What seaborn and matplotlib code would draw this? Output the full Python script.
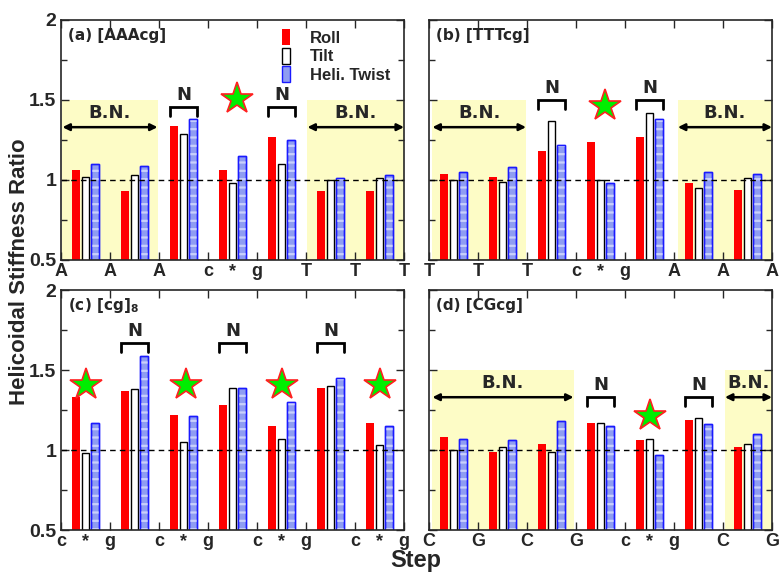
import numpy as np
import pandas as pd
import seaborn as sns
import matplotlib.pyplot as plt
from matplotlib.patches import Rectangle

params = ['Roll', 'Tilt', 'Heli. Twist']

# (a) [AAAcg]
roll_a = [1.06, 0.93, 1.34, 1.06, 1.27, 0.93, 0.93]
tilt_a = [1.02, 1.03, 1.29, 0.98, 1.10, 1.00, 1.01]
twist_a = [1.10, 1.09, 1.38, 1.15, 1.25, 1.01, 1.03]
ticks_a = ['A', 'A', 'A', 'c', 'g', 'T', 'T', 'T']

# (b) [TTTcg]
roll_b = [1.04, 1.02, 1.18, 1.24, 1.27, 0.98, 0.94]
tilt_b = [1.00, 0.99, 1.37, 1.00, 1.42, 0.95, 1.01]
twist_b = [1.05, 1.08, 1.22, 0.98, 1.38, 1.05, 1.04]
ticks_b = ['T', 'T', 'T', 'c', 'g', 'A', 'A', 'A']

# (c) [cg]8
roll_c = [1.33, 1.37, 1.22, 1.28, 1.15, 1.39, 1.17]
tilt_c = [0.98, 1.38, 1.05, 1.39, 1.07, 1.40, 1.03]
twist_c = [1.17, 1.59, 1.21, 1.39, 1.30, 1.45, 1.15]
ticks_c = ['c', 'g', 'c', 'g', 'c', 'g', 'c', 'g']

# (d) [CGcg]
roll_d = [1.08, 0.99, 1.04, 1.17, 1.06, 1.19, 1.02]
tilt_d = [1.00, 1.02, 0.99, 1.17, 1.07, 1.20, 1.04]
twist_d = [1.07, 1.06, 1.18, 1.15, 0.97, 1.16, 1.10]
ticks_d = ['C', 'G', 'C', 'G', 'c', 'g', 'C', 'G']

palette = {'Roll': '#ff0000', 'Tilt': 'white', 'Heli. Twist': '#8f9df2'}
edges = ['#ff0000', 'black', '#1a1aff']

sns.set_style('ticks')
plt.rcParams['font.family'] = ['Liberation Sans', 'DejaVu Sans']
plt.rcParams['font.weight'] = 'bold'
plt.rcParams['hatch.linewidth'] = 1.6

fig = plt.figure(figsize=(7.82, 5.72), dpi=100)

panels = [
    dict(pos=[0.078, 0.5455, 0.4386, 0.4196], roll=roll_a, tilt=tilt_a, twist=twist_a,
         ticks=ticks_a, title='(a) [AAAcg]', stars=[(3.1, 1.505)], star_lbl=[3],
         n=[2, 4], n_top=1.455, bn=[(-0.47, 1.47), (4.53, 6.5)], ylab=True, legend=True),
    dict(pos=[0.5486, 0.5455, 0.4386, 0.4196], roll=roll_b, tilt=tilt_b, twist=twist_b,
         ticks=ticks_b, title='(b) [TTTcg]', stars=[(3.1, 1.46)], star_lbl=[3],
         n=[2, 4], n_top=1.5, bn=[(-0.43, 1.48), (4.58, 6.5)], ylab=False, legend=False),
    dict(pos=[0.078, 0.0734, 0.4386, 0.4196], roll=roll_c, tilt=tilt_c, twist=twist_c,
         ticks=ticks_c, title='(c) [cg]$_\\mathbf{8}$',
         stars=[(0.02, 1.405), (2.06, 1.405), (4.02, 1.405), (6.02, 1.405)],
         star_lbl=[0, 2, 4, 6], n=[1, 3, 5], n_top=1.67, bn=[], ylab=True, legend=False),
    dict(pos=[0.5486, 0.0734, 0.4386, 0.4196], roll=roll_d, tilt=tilt_d, twist=twist_d,
         ticks=ticks_d, title='(d) [CGcg]', stars=[(4.02, 1.21)], star_lbl=[4],
         n=[3, 5], n_top=1.333, bn=[(-0.43, 2.45), (5.54, 6.5)], ylab=False, legend=False),
]

for p in panels:
    ax = fig.add_axes(p['pos'])
    df = pd.DataFrame({
        'group': np.tile(np.arange(7), 3),
        'param': np.repeat(params, 7),
        'value': p['roll'] + p['tilt'] + p['twist'],
    })
    sns.barplot(data=df, x='group', y='value', hue='param', hue_order=params,
                palette=palette, width=0.6, gap=0.2, saturation=1,
                errorbar=None, legend=False, ax=ax, zorder=3)
    for cont, ec in zip(ax.containers, edges):
        for bar in cont:
            bar.set_edgecolor(ec)
            bar.set_linewidth(0 if ec == '#ff0000' else 1.0)
    # striped look of the twist bars
    for bar in ax.containers[2]:
        ax.add_patch(Rectangle(bar.get_xy(), bar.get_width(), bar.get_height(),
                               fill=False, hatch='--', edgecolor='#c9d0fb',
                               lw=0, zorder=3.5))
        ax.add_patch(Rectangle(bar.get_xy(), bar.get_width(), bar.get_height(),
                               fill=False, edgecolor='#1a1aff', lw=1.0, zorder=3.6))

    ax.set_xlim(-0.5, 6.5)
    ax.set_ylim(0.5, 2)
    ax.axhline(1, color='black', ls=(0, (4, 3)), lw=1, zorder=4)

    # yellow "B.N." regions
    for x0, x1 in p['bn']:
        ax.add_patch(Rectangle((x0, 0.5), x1 - x0, 1.0, facecolor='#fdfcc6',
                               edgecolor='none', zorder=0))
        ax.annotate('', xy=(x0, 1.33), xytext=(x1, 1.33),
                    arrowprops=dict(arrowstyle='<|-|>', lw=1.8, color='black',
                                    mutation_scale=10, shrinkA=0, shrinkB=0),
                    zorder=5)
        ax.text((x0 + x1) / 2, 1.42, 'B.N.', ha='center', va='center',
                fontsize=13, fontweight='bold', family='DejaVu Sans')

    # "N" brackets
    for g in p['n']:
        top = p['n_top']
        ax.plot([g - 0.27, g - 0.27, g + 0.27, g + 0.27],
                [top - 0.055, top, top, top - 0.055], color='black', lw=2,
                solid_joinstyle='miter', zorder=5)
        ax.text(g, top + 0.075, 'N', ha='center', va='center',
                fontsize=13, fontweight='bold', family='DejaVu Sans')

    for sx, sy in p['stars']:
        ax.plot(sx, sy, marker='*', ms=24, mfc='#00ee00', mec='#ff2020',
                mew=1.2, zorder=6)

    ax.text(0.02, 0.935, p['title'], transform=ax.transAxes, fontsize=11,
            fontweight='bold', family='DejaVu Sans', va='center')

    # x ticks: letters on the group borders, "*" in the middle of cg steps
    ax.set_xticks(np.arange(8) - 0.5)
    ax.set_xticklabels(p['ticks'], fontsize=13, fontweight='bold')
    ax.set_xticks(p['star_lbl'], minor=True)
    ax.set_xticklabels(['*'] * len(p['star_lbl']), minor=True,
                       fontsize=13, fontweight='bold')
    ax.tick_params(axis='x', which='minor', length=0, pad=2)
    ax.tick_params(axis='x', which='major', direction='in', top=True,
                   length=6, width=1, pad=2)

    ax.set_yticks([0.5, 1, 1.5, 2])
    ax.set_yticks([0.75, 1.25, 1.75], minor=True)
    ax.tick_params(axis='y', which='both', direction='in', right=True, width=1)
    ax.tick_params(axis='y', which='major', length=6)
    ax.tick_params(axis='y', which='minor', length=4)
    if p['ylab']:
        ax.set_yticklabels(['0.5', '1', '1.5', '2'], fontsize=14, fontweight='bold')
    else:
        ax.set_yticklabels([])
    ax.set_xlabel('')
    ax.set_ylabel('')
    for sp in ax.spines.values():
        sp.set_visible(True)
        sp.set_linewidth(1.2)
        sp.set_zorder(7)

    if p['legend']:
        ax.legend(ax.containers, params, loc='upper left',
                  bbox_to_anchor=(0.6, 1.025), frameon=False,
                  handlelength=0.5, handleheight=1.1, handletextpad=1.2,
                  labelspacing=0.12, prop=dict(weight='bold', size=12))

fig.text(0.025, 0.525, 'Helicoidal Stiffness Ratio', rotation=90, ha='center',
         va='center', fontsize=16, fontweight='bold')
fig.text(0.532, 0.02, 'Step', ha='center', va='center', fontsize=17,
         fontweight='bold')

fig.savefig('out.png', dpi=100)
